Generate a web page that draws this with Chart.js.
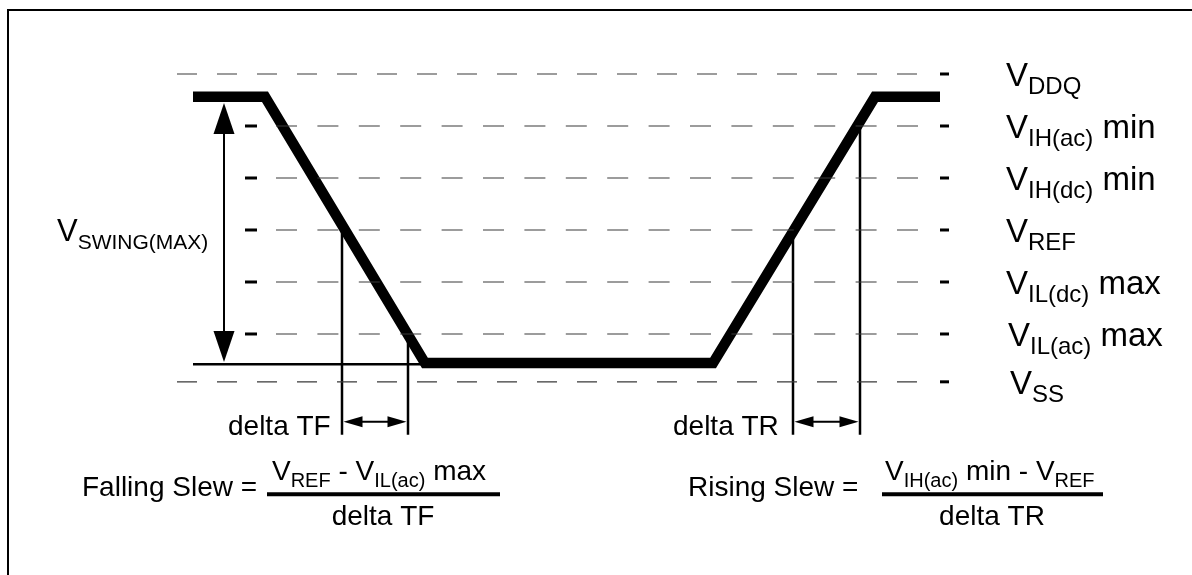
<!DOCTYPE html>
<html><head><meta charset="utf-8">
<script src="https://cdn.jsdelivr.net/npm/chart.js@4/dist/chart.umd.min.js"></script>
<style>html,body{margin:0;padding:0;background:#fff;overflow:hidden}canvas{display:block}</style>
</head><body>
<canvas id="c" width="1192" height="575"></canvas>
<script>
// ---- data (x: time units, y: voltage units; one unit per threshold step) ----
const levelSub    = ['DDQ', 'IH(ac)', 'IH(dc)', 'REF', 'IL(dc)', 'IL(ac)', 'SS'];
const levelSuffix = ['', ' min', ' min', '', ' max', ' max', ''];
const levelValues = [6, 5, 4, 3, 2, 1, 0.08];
const signalTime  = [193, 265, 425, 713, 875, 940];
const signalVolt  = [5.56, 5.56, 0.44, 0.44, 5.56, 5.56];
const fallTimes   = [342, 408];   // crossings of VREF and VIL(ac) max on falling edge
const riseTimes   = [793, 860];   // crossings of VREF and VIH(ac) min on rising edge
const swingRange  = [0.46, 5.44]; // VSWING(MAX) arrow ends
const groundLevel = 0.42;         // solid reference line under the falling edge

const FONT = "'Liberation Sans', Arial, Helvetica, sans-serif";
const datasets = [];
const line = (pts, opt) => datasets.push(Object.assign({data: pts, showLine: true, pointRadius: 0,
  borderColor: '#000', borderWidth: 2, fill: false, tension: 0, borderCapStyle: 'butt'}, opt));

// dashed threshold lines
levelValues.forEach((v, i) => {
  const outer = (i === 0 || i === levelValues.length - 1);
  const x0 = outer ? 177 : 276;
  line([{x: x0, y: v}, {x: 918, y: v}], {borderColor: '#3a3a3a', borderWidth: 1.2,
    borderDash: outer ? [20, 20] : [21, 20.4]});
  // right tick
  line([{x: 940, y: v}, {x: 949, y: v}], {borderWidth: 3});
  // left tick
  if (!outer) line([{x: 245, y: v}, {x: 257, y: v}], {borderWidth: 3});
});
// ground line
line([{x: 193, y: groundLevel}, {x: 425, y: groundLevel}], {borderWidth: 2.5});
// measurement verticals
const bottomV = -0.94;
line([{x: fallTimes[0], y: levelValues[3]}, {x: fallTimes[0], y: bottomV}], {borderWidth: 2.5});
line([{x: fallTimes[1], y: levelValues[5]}, {x: fallTimes[1], y: bottomV}], {borderWidth: 2.5});
line([{x: riseTimes[0], y: levelValues[3]}, {x: riseTimes[0], y: bottomV}], {borderWidth: 2.5});
line([{x: riseTimes[1], y: levelValues[1]}, {x: riseTimes[1], y: bottomV}], {borderWidth: 2.5});
// fraction bars
const fracV = -2.08;
line([{x: 267, y: fracV}, {x: 500, y: fracV}], {borderWidth: 4});
line([{x: 882, y: fracV}, {x: 1103, y: fracV}], {borderWidth: 4});
// signal
line(signalTime.map((t, i) => ({x: t, y: signalVolt[i]})), {borderWidth: 10.5, borderJoinStyle: 'miter'});

const drawPlugin = {
  id: 'diagram',
  beforeDraw(chart) {
    const c = chart.ctx;
    c.save(); c.fillStyle = '#fff'; c.fillRect(0, 0, chart.width, chart.height);
    c.fillStyle = '#000'; c.fillRect(7, 9, chart.width - 7, 2); c.fillRect(7, 9, 2, chart.height - 9);
    c.restore();
  },
  afterDatasetsDraw(chart) {
    const c = chart.ctx, xs = chart.scales.x, ys = chart.scales.y;
    const px = v => xs.getPixelForValue(v), py = v => ys.getPixelForValue(v);
    c.save();
    c.fillStyle = '#000'; c.strokeStyle = '#000';
    const tri = (x, y, dx, dy, len, hw) => {
      c.beginPath(); c.moveTo(x, y);
      c.lineTo(x - dx * len - dy * hw, y - dy * len + dx * hw);
      c.lineTo(x - dx * len + dy * hw, y - dy * len - dx * hw);
      c.closePath(); c.fill();
    };
    // VSWING arrow
    const ax = 224, yTop = py(swingRange[1]), yBot = py(swingRange[0]);
    c.lineWidth = 2; c.beginPath(); c.moveTo(ax, yTop + 20); c.lineTo(ax, yBot - 20); c.stroke();
    tri(ax, yTop, 0, -1, 31, 10.5); tri(ax, yBot, 0, 1, 31, 10.5);
    // double arrows
    const dy = py(-0.69);
    [[fallTimes[0], fallTimes[1]], [riseTimes[0], riseTimes[1]]].forEach(([a, b]) => {
      const l = px(a) + 1.5, r = px(b) - 1.5;
      c.lineWidth = 2; c.beginPath(); c.moveTo(l + 10, dy); c.lineTo(r - 10, dy); c.stroke();
      tri(l, dy, -1, 0, 19, 5.5); tri(r, dy, 1, 0, 19, 5.5);
    });
    // rich text helper
    const rich = (x, y, parts, align) => {
      let w = 0;
      parts.forEach(p => { c.font = p[1] + 'px ' + FONT; w += c.measureText(p[0]).width; });
      let cx = align === 'center' ? x - w / 2 : x;
      c.textBaseline = 'alphabetic'; c.textAlign = 'left';
      parts.forEach(p => { c.font = p[1] + 'px ' + FONT; c.fillText(p[0], cx, y + (p[2] || 0)); cx += c.measureText(p[0]).width; });
    };
    const M = 33, S = 24;
    levelValues.forEach((v, i) => {
      const y = py(v) + 12;
      const x = i === 5 ? 1008 : (i === 6 ? 1010 : 1006);
      const parts = [['V', M], [levelSub[i], S, 8]];
      if (levelSuffix[i]) parts.push([levelSuffix[i], M]);
      rich(x, y, parts);
    });
    rich(57, py(levelValues[3]) + 11, [['V', 31], ['SWING(MAX)', 21, 8]]);
    rich(228, 435, [['delta TF', 28]]);
    rich(673, 435, [['delta TR', 28]]);
    const fy = py(fracV);
    rich(82, fy + 2, [['Falling Slew =', 28]]);
    rich(272, fy - 14, [['V', 28], ['REF', 20, 7], [' - V', 28], ['IL(ac)', 20, 7], [' max', 28]]);
    rich(383, fy + 31, [['delta TF', 28]], 'center');
    rich(688, fy + 2, [['Rising Slew =', 28]]);
    rich(885, fy - 14, [['V', 28], ['IH(ac)', 20, 7], [' min - V', 28], ['REF', 20, 7]]);
    rich(992, fy + 31, [['delta TR', 28]], 'center');
    c.restore();
  }
};

new Chart(document.getElementById('c'), {
  type: 'scatter',
  data: {datasets},
  options: {
    responsive: false, animation: false, devicePixelRatio: 1,
    layout: {padding: 0},
    plugins: {legend: {display: false}, tooltip: {enabled: false}},
    scales: {
      x: {type: 'linear', display: false, min: 0, max: 1192},
      y: {type: 'linear', display: false, min: -3.635, max: 7.423}
    }
  },
  plugins: [drawPlugin]
});
</script>
</body></html>
